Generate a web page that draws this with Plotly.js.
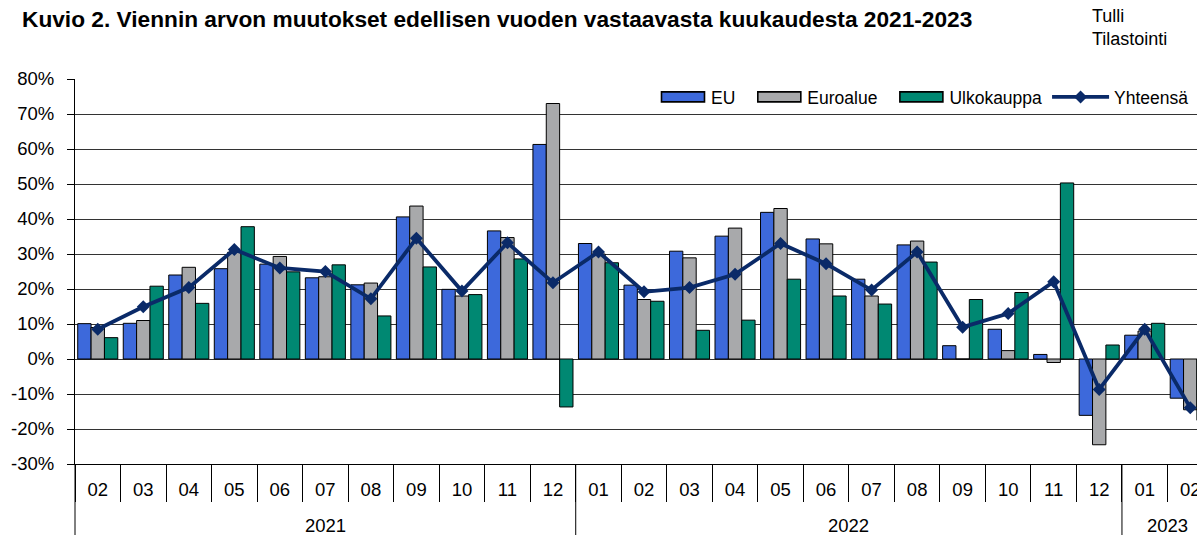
<!DOCTYPE html>
<html>
<head>
<meta charset="utf-8">
<script src="https://cdn.plot.ly/plotly-3.0.1.min.js"></script>
<style>
html,body{margin:0;padding:0;overflow:hidden;background:#fff;}
#chart{width:1230px;height:535px;}
</style>
</head>
<body>
<div id="chart"></div>
<script>
// Data
const years = ['2021','2021','2021','2021','2021','2021','2021','2021','2021','2021','2021',
               '2022','2022','2022','2022','2022','2022','2022','2022','2022','2022','2022','2022',
               '2023','2023'];
const months = ['02','03','04','05','06','07','08','09','10','11','12',
                '01','02','03','04','05','06','07','08','09','10','11','12',
                '01','02'];
const eu =        [10.1, 10.2, 24.0, 25.8, 27.1, 23.2, 21.2, 40.6, 19.9, 36.6, 61.3,
                   33.0, 21.1, 30.8, 35.1, 41.9, 34.3, 22.8, 32.6, 3.8, 8.5, 1.3, -16.1,
                   6.8, -11.2];
const euroalue =  [9.0, 11.0, 26.2, 30.5, 29.3, 23.5, 21.7, 43.7, 18.0, 34.7, 73.0,
                   30.0, 17.0, 28.9, 37.4, 43.0, 32.9, 18.0, 33.7, 0.0, 2.4, -1.0, -24.5,
                   8.0, -14.5];
const ulkokauppa =[6.1, 20.8, 15.9, 37.8, 24.9, 26.9, 12.3, 26.3, 18.4, 28.6, -13.7,
                   27.5, 16.5, 8.2, 11.1, 22.8, 18.0, 15.7, 27.7, 17.0, 19.0, 50.3, 4.0,
                   10.2, -17.5];
const yhteensa =  [8.5, 14.9, 20.4, 31.3, 26.0, 25.0, 17.2, 34.5, 19.4, 33.2, 21.8,
                   30.6, 19.2, 20.4, 24.2, 33.0, 27.2, 19.7, 30.6, 9.1, 13.0, 22.1, -8.7,
                   8.5, -13.9];
const seriesNames = ['EU','Euroalue','Ulkokauppa','Yhteensä'];
const yTickVals = [-30,-20,-10,0,10,20,30,40,50,60,70,80];

const W = 1230, H = 535;
const ML = 75, MR = 17, MT = 79, MB = 71;
const PW = W - ML - MR, PH = H - MT - MB;

// unique category keys, labelled by month only
const cats = years.map((y, i) => y + '-' + months[i]);

// year groups (for year labels and dividers)
const groups = [];
years.forEach((y, i) => {
  const g = groups[groups.length - 1];
  if (g && g.year === y) g.last = i; else groups.push({year: y, first: i, last: i});
});

const barLine = {color:'#000', width:1};
const traces = [
  {type:'bar', name:seriesNames[0], x:cats, y:eu, marker:{color:'#3D69DB', line:barLine}},
  {type:'bar', name:seriesNames[1], x:cats, y:euroalue, marker:{color:'#A8A9AB', line:barLine}},
  {type:'bar', name:seriesNames[2], x:cats, y:ulkokauppa, marker:{color:'#008872', line:barLine}},
  {type:'scatter', mode:'lines+markers', name:seriesNames[3], x:cats, y:yhteensa,
   line:{color:'#0A2A68', width:3.8}, marker:{symbol:'diamond', size:10, color:'#0A2A68'}}
];

const font = {family:'"Liberation Sans", Arial, sans-serif', color:'#000'};
const f = s => Object.assign({size:s}, font);

const annotations = groups.map(g => ({
  text: g.year, xref:'x', yref:'paper', x:(g.first + g.last) / 2, y:(464 - 525) / PH,
  xanchor:'center', yanchor:'middle', showarrow:false, font:f(18.5)
}));
annotations.push({text:'Tulli<br>Tilastointi', xref:'paper', yref:'paper',
  x:(1090 - ML) / PW, y:(H - MB - 4) / PH, xanchor:'left', yanchor:'top', align:'left',
  showarrow:false, font:f(18)});

const shapes = [
  {type:'line', xref:'paper', yref:'paper', x0:0, x1:0, y0:0, y1:-MB / PH, line:{color:'#000', width:1}}
];
groups.slice(1).forEach(g => {
  shapes.push({type:'line', xref:'x', yref:'paper', x0:g.first - 0.5, x1:g.first - 0.5,
    y0:0, y1:-MB / PH, line:{color:'#000', width:1}});
});

const layout = {
  width: W, height: H,
  margin: {l:ML, r:MR, t:MT, b:MB, pad:0},
  paper_bgcolor:'#fff', plot_bgcolor:'#fff',
  font: f(18),
  barmode:'group', bargap:0.12, bargroupgap:0,
  showlegend:true,
  title: {
    text:'<b>Kuvio 2. Viennin arvon muutokset edellisen vuoden vastaavasta kuukaudesta 2021-2023</b>',
    font: f(22.7),
    x: 22 / W, xanchor:'left', xref:'container',
    y: 1 - 19 / H, yanchor:'middle', yref:'container'
  },
  xaxis: {
    type:'category', tickvals:cats, ticktext:months,
    autorange:false, range:[-0.5, cats.length - 0.5],
    showline:true, linecolor:'#000', linewidth:1,
    ticks:'outside', tickson:'boundaries', ticklen:37, tickcolor:'#000', tickwidth:1,
    ticklabelstandoff:9,
    showgrid:false, zeroline:false,
    tickfont: f(18.5)
  },
  yaxis: {
    range:[-30, 80], tickvals:yTickVals, ticktext:yTickVals.map(v => v + '%'),
    showline:true, linecolor:'#000', linewidth:1,
    ticks:'outside', ticklen:7, tickcolor:'#000',
    showgrid:true, gridcolor:'#333', gridwidth:1,
    zeroline:false,
    tickfont: f(18.5),
    ticklabelstandoff: 9
  },
  legend: {
    orientation:'h', x:(1194 - ML) / PW, xanchor:'right', y:(464 - 97) / PH, yanchor:'middle',
    bgcolor:'rgba(255,255,255,0)', borderwidth:0,
    font: f(17.5),
    traceorder:'normal', itemwidth:57
  },
  annotations: annotations,
  shapes: shapes
};

Plotly.newPlot('chart', traces, layout, {displayModeBar:false, staticPlot:true}).then(gd => {
  // widen the bar legend keys into flat rectangles, as in the reference
  const items = gd.querySelectorAll('.legend .traces');
  items.forEach((g, i) => {
    if (traces[i] && traces[i].type === 'bar') {
      g.querySelectorAll('.legendpoints path').forEach(p => {
        p.setAttribute('d', 'M-16,-5H27V5H-16Z');
        p.style.strokeWidth = '1.6px';
      });
    }
  });
});
</script>
</body>
</html>
